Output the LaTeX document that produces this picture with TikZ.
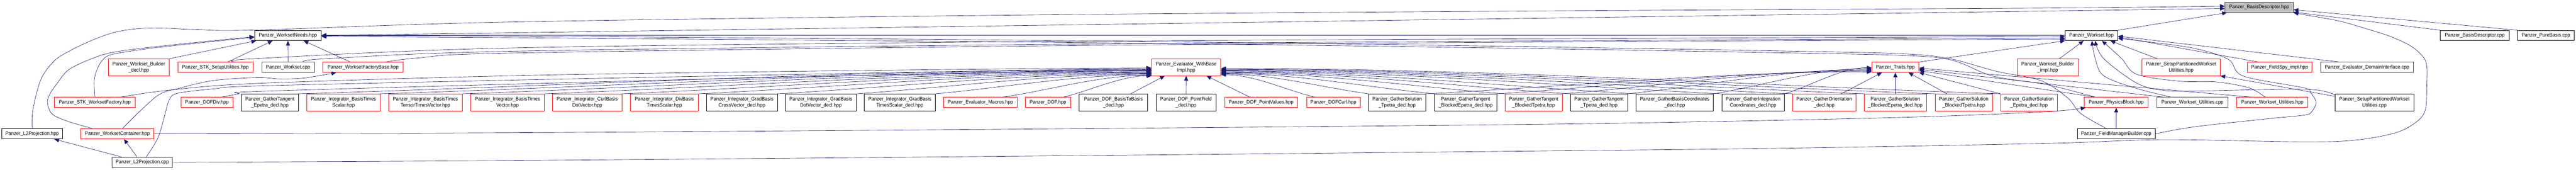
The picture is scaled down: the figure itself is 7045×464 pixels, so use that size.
\documentclass[tikz,border=0pt]{standalone}
\usepackage{fontspec}
\setmainfont{Liberation Sans}[FakeStretch=0.93]
\usetikzlibrary{arrows.meta,calc}
\definecolor{edgec}{HTML}{191970}
\definecolor{nred}{HTML}{FF0000}
\definecolor{ngrey}{HTML}{404040}
\definecolor{bdfill}{HTML}{BFBFBF}
\tikzset{
 nb/.style={draw, line width=1pt, fill=white, inner sep=0pt, align=center, font=\fontsize{14}{17}\selectfont},
 blk/.style={nb, draw=black},
 rd/.style={nb, draw=nred},
 gry/.style={nb, draw=ngrey, line width=1.4pt},
 bdn/.style={nb, draw=ngrey, fill=bdfill, line width=1.4pt},
 edg/.style={draw=edgec, line width=0.9pt, -{Triangle[length=13pt,width=11pt]}},
}
\newcommand\bx[7]{\node[#6, minimum width={(#3-#2)*1pt}, minimum height={(#5-#4)*1pt}] (#1) at ({(#2+#3)/2},{(#4+#5)/2}) {#7};}
\newcommand\cv[2]{\draw[edg] (#1) .. controls ($(#1)!0.3!(#2)$) and ($(#1 |- #2)!0.65!(#2)$) .. (#2);}
\begin{document}
\begin{tikzpicture}[x=1pt,y=-1pt]
\fill[white] (0,0) rectangle (7045,464);
\useasboundingbox (0,0) rectangle (7045,464);
% row A/B
\bx{BDh}{6085}{6272}{6}{34}{bdn}{Panzer\_BasisDescriptor.hpp}
\bx{WN}{696}{879}{83}{111}{blk}{Panzer\_WorksetNeeds.hpp}
\bx{WSh}{5648}{5792}{83}{111}{blk}{Panzer\_Workset.hpp}
\bx{BDc}{6674}{6862}{83}{111}{blk}{Panzer\_BasisDescriptor.cpp}
\bx{PBc}{6885}{7040}{83}{111}{blk}{Panzer\_PureBasis.cpp}
% row C
\bx{WBd}{296}{463}{161}{207}{rd}{Panzer\_Workset\_Builder\\\_decl.hpp}
\bx{STKSU}{486}{692}{170}{198}{rd}{Panzer\_STK\_SetupUtilities.hpp}
\bx{WSc}{716}{860}{170}{198}{gry}{Panzer\_Workset.cpp}
\bx{WFB}{883}{1103}{170}{198}{rd}{Panzer\_WorksetFactoryBase.hpp}
\bx{EWB}{3149}{3339}{161}{207}{rd}{Panzer\_Evaluator\_WithBase\\Impl.hpp}
\bx{TR}{5119}{5248}{170}{198}{rd}{Panzer\_Traits.hpp}
\bx{WBi}{5516}{5684}{161}{207}{rd}{Panzer\_Workset\_Builder\\\_impl.hpp}
\bx{SPWUh}{5858}{6072}{161}{207}{rd}{Panzer\_SetupPartitionedWorkset\\Utilities.hpp}
\bx{FS}{6146}{6323}{170}{198}{rd}{Panzer\_FieldSpy\_impl.hpp}
\bx{DIc}{6347}{6600}{170}{198}{gry}{Panzer\_Evaluator\_DomainInterface.cpp}
% row D
\bx{STKWF}{149}{370}{266}{294}{rd}{Panzer\_STK\_WorksetFactory.hpp}
\bx{DOFDiv}{495}{637}{266}{294}{rd}{Panzer\_DOFDiv.hpp}
\bx{GTE}{660}{816}{257}{303}{blk}{Panzer\_GatherTangent\\\_Epetra\_decl.hpp}
\bx{BTS}{839}{1040}{257}{303}{rd}{Panzer\_Integrator\_BasisTimes\\Scalar.hpp}
\bx{BTT}{1063}{1264}{257}{303}{rd}{Panzer\_Integrator\_BasisTimes\\TensorTimesVector.hpp}
\bx{BTV}{1287}{1489}{257}{303}{rd}{Panzer\_Integrator\_BasisTimes\\Vector.hpp}
\bx{CBD}{1511}{1701}{257}{303}{rd}{Panzer\_Integrator\_CurlBasis\\DotVector.hpp}
\bx{DBT}{1724}{1910}{257}{303}{rd}{Panzer\_Integrator\_DivBasis\\TimesScalar.hpp}
\bx{GBC}{1932}{2126}{257}{303}{blk}{Panzer\_Integrator\_GradBasis\\CrossVector\_decl.hpp}
\bx{GBD}{2148}{2342}{257}{303}{blk}{Panzer\_Integrator\_GradBasis\\DotVector\_decl.hpp}
\bx{GBT}{2364}{2558}{257}{303}{blk}{Panzer\_Integrator\_GradBasis\\TimesScalar\_decl.hpp}
\bx{EM}{2581}{2782}{266}{294}{rd}{Panzer\_Evaluator\_Macros.hpp}
\bx{DOF}{2804}{2928}{266}{294}{rd}{Panzer\_DOF.hpp}
\bx{DBB}{2951}{3139}{257}{303}{blk}{Panzer\_DOF\_BasisToBasis\\\_decl.hpp}
\bx{DPF}{3162}{3325}{257}{303}{blk}{Panzer\_DOF\_PointField\\\_decl.hpp}
\bx{DPV}{3349}{3549}{266}{294}{rd}{Panzer\_DOF\_PointValues.hpp}
\bx{DC}{3573}{3720}{266}{294}{rd}{Panzer\_DOFCurl.hpp}
\bx{GST}{3743}{3899}{257}{303}{blk}{Panzer\_GatherSolution\\\_Tpetra\_decl.hpp}
\bx{GTBE}{3923}{4093}{257}{303}{blk}{Panzer\_GatherTangent\\\_BlockedEpetra\_decl.hpp}
\bx{GTBT}{4116}{4272}{257}{303}{rd}{Panzer\_GatherTangent\\\_BlockedTpetra.hpp}
\bx{GTT}{4295}{4451}{257}{303}{blk}{Panzer\_GatherTangent\\\_Tpetra\_decl.hpp}
\bx{GBCo}{4474}{4686}{257}{303}{blk}{Panzer\_GatherBasisCoordinates\\\_decl.hpp}
\bx{GIC}{4709}{4880}{257}{303}{blk}{Panzer\_GatherIntegration\\Coordinates\_decl.hpp}
\bx{GO}{4903}{5075}{257}{303}{rd}{Panzer\_GatherOrientation\\\_decl.hpp}
\bx{GSBE}{5098}{5269}{257}{303}{rd}{Panzer\_GatherSolution\\\_BlockedEpetra\_decl.hpp}
\bx{GSBT}{5292}{5449}{257}{303}{rd}{Panzer\_GatherSolution\\\_BlockedTpetra.hpp}
\bx{GSE}{5471}{5627}{257}{303}{rd}{Panzer\_GatherSolution\\\_Epetra\_decl.hpp}
\bx{PB}{5700}{5875}{266}{294}{rd}{Panzer\_PhysicsBlock.hpp}
\bx{WUc}{5899}{6093}{266}{294}{gry}{Panzer\_Workset\_Utilities.cpp}
\bx{WUh}{6117}{6312}{266}{294}{rd}{Panzer\_Workset\_Utilities.hpp}
\bx{SPWUc}{6386}{6601}{257}{303}{blk}{Panzer\_SetupPartitionedWorkset\\Utilities.cpp}
% row E/F
\bx{L2Ph}{5}{171}{352}{380}{blk}{Panzer\_L2Projection.hpp}
\bx{WC}{221}{421}{352}{380}{rd}{Panzer\_WorksetContainer.hpp}
\bx{FMB}{5681}{5894}{352}{380}{blk}{Panzer\_FieldManagerBuilder.cpp}
\bx{L2Pc}{306}{472}{430}{458}{gry}{Panzer\_L2Projection.cpp}
% helper start points
\coordinate (sEM) at ($(EM.north east)+(-39,0)$);
\coordinate (sDOF) at ($(DOF.north east)+(-20,0)$);
\coordinate (sDC) at ($(DC.north west)+(23,0)$);
% ---- edges into BasisDescriptor.hpp
\draw[edg] (WN.east) -- (BDh.182);
\draw[edg] plot[smooth,tension=0.55] coordinates {(L2Ph.north) (90,300) (112,217) (148,167) (189,140) (252,110) (315,88) (382,78) (450,77) (540,81) (705,82) (1405,60) (2805,41) (4205,30) (5600,22) (BDh.178)};
\draw[edg] (WSh.north east) -- ($(BDh.south west)+(6,0)$);
\draw[edg] (PBc.north west) -- (BDh.356);
\draw[edg] (BDc.north west) -- (BDh.352);
\draw[edg] plot[smooth,tension=0.55] coordinates {(L2Pc.east) (1405,439) (2805,427) (4205,413) (4905,405) (5605,392) (5915,382) (6300,388) (6443,383) (6552,363) (6609,333) (6633,300) (6637,233) (6637,183) (6628,157) (6595,127) (6538,100) (6466,77) (6395,57) (6300,40) (BDh.south east)};
% ---- edges into WorksetNeeds.hpp
\draw[edg] plot[smooth,tension=0.55] coordinates {(STKWF.north) (258,217) (270,180) (288,157) (315,147) (405,133) (540,118) (WN.183)};
\draw[edg] plot[smooth,tension=0.55] coordinates {($(WC.north west)+(33,0)$) (189,333) (144,313) (130,283) (135,260) (157,227) (189,190) (252,160) (315,142) (450,125) (WN.182)};
\draw[edg] (WBd.north east) -- ($(WN.south west)+(5,0)$);
\draw[edg] ($(STKSU.north)+(34,0)$) -- ($(WN.south)+(-42,0)$);
\draw[edg] (WSc.north) -- (WN.south);
\draw[edg] ($(WFB.north)+(-35,0)$) -- ($(WN.south)+(43,0)$);
\draw[edg] ($(WSh.west)+(0,-1)$) -- ($(WN.east)+(0,-1)$);
\draw[edg] plot[smooth,tension=0.55] coordinates {($(PB.north west)+(30,0)$) (5600,232) (5450,208) (5340,165) (5215,152) (4905,145) (4205,133) (3505,123) (2805,115) (2105,109) (1405,103) ($(WN.east)+(0,3)$)};
\draw[edg] plot[smooth,tension=0.55] coordinates {($(FMB.north west)+(80,0)$) (5690,310) (5654,267) (5580,220) (5460,195) (5330,160) (5200,147) (4905,140) (4205,128) (3505,118) (2805,110) (2105,104) (1405,99) ($(WN.east)+(0,1)$)};
% ---- edges into Workset.hpp
\draw[edg] plot[smooth,tension=0.55] coordinates {($(STKSU.north east)+(-47,0)$) (705,160) (1405,131) (2805,114) (4205,106) ($(WSh.west)+(0,3)$)};
\draw[edg] plot[smooth,tension=0.55] coordinates {($(WSc.north east)+(-30,0)$) (900,160) (1405,140) (2805,122) (4205,112) ($(WSh.west)+(0,7)$)};
\draw[edg] plot[smooth,tension=0.55] coordinates {($(WFB.north east)+(-48,0)$) (1150,158) (1405,145) (2805,126) (4205,115) ($(WSh.west)+(0,10)$)};
\draw[edg] (TR.north east) -- (WSh.south west);
\draw[edg] ($(WBi.north)+(32,0)$) -- ($(WSh.south west)+(51,0)$);
\draw[edg] plot[smooth,tension=0.55] coordinates {($(WUc.north west)+(38,0)$) (5837,240) (5753,207) (5730,160) ($(WSh.south)+(1,0)$)};
\draw[edg] ($(SPWUh.north west)+(42,0)$) -- ($(WSh.south east)+(-21,0)$);
\draw[edg] ($(FS.north west)+(30,0)$) -- ($(WSh.east)+(0,4)$);
\draw[edg] ($(DIc.north west)+(50,0)$) -- ($(WSh.east)+(0,2)$);
\draw[edg] plot[smooth,tension=0.55] coordinates {(FMB.east) (6000,347) (6200,325) (6300,315) (6321,307) (6334,280) (6319,253) (6300,240) (6135,208) (6095,163) (6005,133) (5880,115) ($(WSh.east)+(0,8)$)};
\draw[edg] plot[smooth,tension=0.55] coordinates {($(SPWUc.north west)+(0,3)$) (6305,244) (6000,249) (5915,247) (5843,227) (5753,160) ($(WSh.south)+(10,0)$)};
\draw[edg] plot[smooth,tension=0.55] coordinates {($(WUh.north)+(-20,0)$) (6150,240) (6060,224) (5960,222) (5843,203) (5802,160) ($(WSh.south east)+(-44,0)$)};
% ---- other right-side edges
\draw[edg] ($(SPWUc.north west)+(0,7)$) -- (SPWUh.south east);
\draw[edg] (FMB.north) -- (PB.south);
\draw[edg] plot[smooth,tension=0.55] coordinates {(WC.east) (1405,363) (2805,353) (4205,340) (4905,328) (5300,318) (5605,305) ($(PB.south west)+(4,0)$)};
% ---- L2Projection.cpp and WorksetContainer
\draw[edg] ($(L2Pc.north west)+(27,0)$) -- ($(L2Ph.south east)+(-23,0)$);
\draw[edg] ($(L2Pc.north)+(-14,0)$) -- ($(WC.south)+(18,0)$);
\draw[edg] plot[smooth,tension=0.55] coordinates {($(WC.north)+(14,0)$) (387,300) (438,257) (495,240) (585,220) (705,212) (767,216) (835,213) ($(WFB.south west)+(37,0)$)};
% ---- edges into Evaluator_WithBaseImpl.hpp (left)
\draw[edg] plot[smooth,tension=0.55] coordinates {($(L2Pc.north)+(11,0)$) (432,377) (450,317) (463,273) (486,255) (585,243) (705,235) (1405,219) (2105,205) (2805,192) (EWB.182)};
\draw[edg] plot[smooth,tension=0.55] coordinates {($(STKWF.north east)+(-40,0)$) (459,247) (705,228) (1405,207) (2105,196) (2805,188) (EWB.181)};
\draw[edg] plot[smooth,tension=0.55] coordinates {($(DOFDiv.north)+(41,0)$) (652,257) (705,250) (1405,230) (2105,212) (2805,197) (EWB.183)};
\cv{GTE.north east}{EWB.184}
\cv{BTS.north east}{EWB.185}
\cv{BTT.north east}{EWB.186}
\cv{BTV.north east}{EWB.187}
\cv{CBD.north east}{EWB.188}
\cv{DBT.north east}{EWB.189}
\cv{GBC.north east}{EWB.190}
\cv{GBD.north east}{EWB.191}
\cv{GBT.north east}{EWB.192}
\cv{sEM}{EWB.193}
\cv{sDOF}{EWB.194}
% bottom
\draw[edg] ($(DBB.north)+(47,0)$) -- ($(EWB.south west)+(37,0)$);
\draw[edg] (DPF.north) -- (EWB.south);
\draw[edg] ($(DPV.north)+(-31,0)$) -- ($(EWB.south east)+(-40,0)$);
% right
\cv{sDC}{EWB.348}
\cv{GST.north west}{EWB.349}
\cv{GTBE.north west}{EWB.350}
\cv{GTBT.north west}{EWB.351}
\cv{GTT.north west}{EWB.352}
\cv{GBCo.north west}{EWB.353}
\cv{GIC.north west}{EWB.354}
\cv{GO.north west}{EWB.355}
\cv{GSBE.north west}{EWB.356}
\cv{GSBT.north west}{EWB.357}
\cv{GSE.north west}{EWB.358}
% ---- edges into Traits.hpp
\cv{GST.north east}{TR.191}
\cv{GTBE.north east}{TR.189}
\cv{GTBT.north east}{TR.187}
\cv{GTT.north east}{TR.185}
\cv{GBCo.north east}{TR.183}
\cv{GIC.north east}{TR.181}
\draw[edg] ($(GO.north east)+(-40,0)$) -- ($(TR.south west)+(28,0)$);
\draw[edg] (GSBE.north) -- (TR.south);
\draw[edg] ($(GSBT.north west)+(33,0)$) -- ($(TR.south east)+(-29,0)$);
\draw[edg] (GSE.north west) -- (TR.south east);
\draw[edg] ($(PB.north west)+(30,0)$) -- (TR.352);
\draw[edg] ($(WUc.north west)+(16,0)$) -- (TR.355);
\draw[edg] ($(WUh.north)+(-58,0)$) -- (TR.358);
\end{tikzpicture}
\end{document}
